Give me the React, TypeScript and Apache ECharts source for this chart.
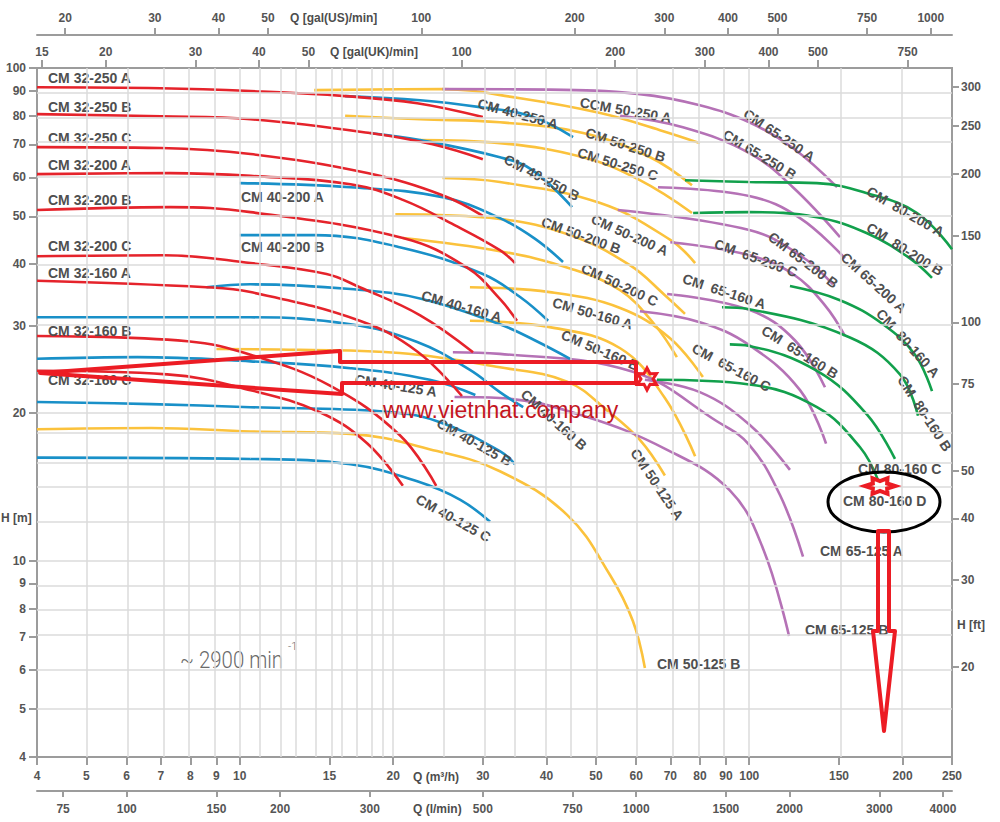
import React, { useEffect, useRef } from "react";
import * as echarts from "echarts";

const L = Math.log10;

// ---------- axis tick values ----------
const qTicks = [4, 5, 6, 7, 8, 9, 10, 15, 20, 30, 40, 50, 60, 70, 80, 90, 100, 150, 200, 250];
const lpmTicks = [75, 100, 150, 200, 300, 500, 750, 1000, 1500, 2000, 3000, 4000];
const ukTicks = [15, 20, 30, 40, 50, 100, 200, 300, 400, 500, 750];
const usTicks = [20, 30, 40, 50, 100, 200, 300, 400, 500, 750, 1000];
const hTicks = [4, 5, 6, 7, 8, 9, 10, 20, 30, 40, 50, 60, 70, 80, 90, 100];
const ftTicks = [20, 30, 40, 50, 75, 100, 150, 200, 250, 300];
const qGrid = [5, 6, 7, 8, 9, 10, 11, 12, 13, 14, 15, 16, 17, 18, 19, 20, 25, 30, 35, 40, 45, 50, 60, 70, 80, 90, 100, 150, 200];
const hGrid = [5, 6, 7, 8, 9, 10, 12, 14, 16, 18, 20, 30, 40, 50, 60, 70, 80, 90];

const Q_MIN = 4, Q_MAX = 250, H_MIN = 4, H_MAX = 100;
const LPM_PER_M3H = 1000 / 60;
const UKGPM_PER_M3H = 3.66615;
const USGPM_PER_M3H = 4.40287;
const FT_PER_M = 3.28084;

// ---------- pump curves: [Q m3/h, H m] ----------
const cm32_250A = [[4, 91.4], [7, 91.0], [10.5, 89.8], [16.1, 87.7], [22.3, 84.8], [30, 79.5]];
const cm32_250B = [[4, 80.6], [7, 79.8], [10.5, 78.7], [18, 73.8], [23.9, 70], [30, 65.3]];
const cm32_250C = [[4, 69.1], [7, 68.8], [10.5, 66.9], [17.8, 61.2], [25, 55.2], [30, 50.1]];
const cm32_200A = [[4, 60.9], [7.3, 61.2], [10.5, 60.4], [16.5, 58.1], [20.9, 54], [26.4, 48], [32.4, 42.7], [34.7, 40.2]];
const cm32_200B = [[4, 51.5], [7.3, 52.2], [10.5, 51.0], [20.9, 45.2], [27.9, 39.4], [32.4, 34.0], [35, 30.7]];
const cm32_200C = [[4, 41.5], [7.1, 41.7], [10.5, 40.2], [14.8, 38.2], [17.2, 35.9], [22.6, 31.5], [28.7, 26.5]];
const cm32_160A = [[4, 37], [8.6, 35.9], [10.5, 35.1], [17.2, 30.7], [22.3, 26.6], [27.3, 21.6]];
const cm32_160B = [[4, 28.6], [7.9, 27.9], [10.5, 26.2], [15, 22.7], [20.6, 18], [24.3, 14.2]];
const cm32_160C = [[4, 24.3], [7.2, 23.9], [10.5, 22.2], [14.4, 20], [17.8, 17.3], [20.9, 14.2]];

const cm40_250A = [[16.1, 87.7], [22.6, 86], [29.6, 83.3], [37.1, 80], [45.1, 72.4]];
const cm40_250B = [[18, 73.8], [22.6, 71.4], [32.4, 65.9], [37.6, 62], [44.9, 52.2]];
const cm40_200A = [[10, 58.4], [16.5, 57.3], [25, 54.7], [32.4, 49.6], [38, 45], [43.1, 40.4]];
const cm40_200B = [[10, 45.8], [14, 45.8], [20.6, 43.3], [30, 38.2], [35.5, 34.3], [40.3, 30.7]];
const cm40_160A = [[8.6, 35.9], [10.5, 36.4], [16.5, 35.6], [22.8, 34], [32.4, 30.2], [38, 28], [44.5, 25.7]];
const cm40_160B = [[4, 31.2], [10.5, 31.2], [16.5, 30.2], [22.3, 27.8], [28.3, 24.4], [32.4, 22], [36, 20.5]];
const cm40_125A = [[4, 25.7], [6.3, 25.9], [10.5, 25.4], [16.5, 24.6], [23.6, 23.3], [29, 21.7]];
const cm40_125B = [[4, 21], [6.7, 20.8], [10.5, 20.5], [19.1, 20.1], [24.4, 19.2], [32.4, 16.7], [34.7, 15.7]];
const cm40_125C = [[4, 16.2], [10.5, 16.1], [16.5, 15.7], [22.3, 14.5], [27.1, 13.3], [31, 12]];

const cm50_250A = [[14, 90.2], [25, 90.6], [35.5, 86.8], [51, 81], [66.8, 74.8], [80, 70.4]];
const cm50_250B = [[16.1, 80], [22.6, 78.7], [32.4, 77.6], [47.2, 73.8], [63.9, 65.9], [77.2, 57.8]];
const cm50_250C = [[22.6, 71.4], [32.4, 70.4], [47.2, 65.9], [61, 59.2], [77.2, 50.8]];
const cm50_200A = [[25, 59.8], [32.4, 58.7], [51, 53.2], [70, 44.8], [78.3, 40.2]];
const cm50_200B = [[20.2, 50.5], [32.4, 49.4], [44.5, 45.8], [58.3, 39.8], [68.3, 34.6], [74.8, 31.7]];
const cm50_200C = [[20.9, 45.2], [32.4, 42.5], [44.5, 39.2], [55.8, 35.4], [65.3, 30.1], [72.1, 25.9]];
const cm50_160A = [[28.3, 35.9], [40.6, 35.1], [55.8, 32.6], [69.9, 28.3], [81.1, 23.6]];
const cm50_160B = [[28.3, 30.7], [40.6, 29.8], [55.8, 27], [68.3, 21.4], [78.3, 16.3]];
const cm50_125A = [[9, 26.9], [13.1, 26.8], [20.6, 26.4], [32.4, 24.7], [43.9, 23.1], [52.6, 20.2], [61, 17.6], [68.3, 14.9]];
const cm50_125B = [[4, 18.5], [6.7, 18.6], [10.5, 18.3], [16.5, 18.1], [24.4, 16.7], [32.4, 15.2], [43.9, 12.4], [53.3, 9.36], [59.1, 7.55], [62.4, 6.06]];

const cm65_250A = [[25, 90.6], [40.6, 90.4], [61, 88.5], [80, 84], [100, 77.6], [121.8, 68.8], [148.7, 57.3]];
const cm65_250B = [[55.8, 80], [74.1, 75.8], [100, 67.2], [121.8, 57.3], [150.7, 45.4]];
const cm65_200A = [[66.2, 57.3], [100, 55], [125.8, 49.6], [154.1, 41.1]];
const cm65_200B = [[55.2, 51.5], [100, 46.9], [125.8, 41.7], [146, 36.4]];
const cm65_200C = [[70, 44.3], [100, 41.7], [121.8, 38.2], [140.8, 33], [154.1, 28.6]];
const cm65_160A = [[69, 34.8], [100, 32.3], [123, 28], [140.8, 22.5]];
const cm65_160B = [[61, 32.1], [80, 30.5], [100, 27.4], [125.8, 22.2], [141.5, 17.3]];
const cm65_160C = [[62.4, 23.3], [80, 22], [100, 18.9], [120.2, 15.3]];
const cm65_125A = [[26.2, 26.5], [32.4, 26.3], [59.1, 24.2], [86.4, 19.2], [100, 17.2], [114.9, 13.6], [127.5, 10.2]];
const cm65_125B = [[26.4, 21.5], [32.4, 21.4], [47.2, 19.7], [69, 16.8], [91.6, 13.9], [106.4, 10.6], [119.7, 7.04]];

const cm80_200A = [[74.8, 59.2], [100, 58.7], [135.8, 58.4], [170.3, 55.7], [213.4, 50.8], [250, 42.9]];
const cm80_200B = [[77.6, 50.8], [100, 51], [135.8, 49.8], [170.3, 46.2], [206.7, 41.1], [228.4, 37.5]];
const cm80_160A = [[120.2, 36.1], [150.7, 33.8], [183, 30.2], [211.5, 26.2], [228.4, 22.1]];
const cm80_160B = [[88.4, 32.7], [100, 32.4], [157.6, 28.4], [197.6, 23.9], [214.4, 19.7]];
const cm80_160C = [[91.6, 27.5], [100, 27.3], [135.8, 24.3], [170.3, 19.8], [193.2, 16.1]];
const cm80_160D = [[65.9, 23.3], [100, 22.8], [135.8, 20.5], [165, 17], [178.9, 14.6]];

const RED = "#e5232b";
const BLUE = "#1990c8";
const YELLOW = "#fbc23c";
const PURPLE = "#b572b6";
const GREEN = "#12a04c";

const curves = [
  { pts: cm50_250A, color: YELLOW }, { pts: cm50_250B, color: YELLOW }, { pts: cm50_250C, color: YELLOW },
  { pts: cm50_200A, color: YELLOW }, { pts: cm50_200B, color: YELLOW }, { pts: cm50_200C, color: YELLOW },
  { pts: cm50_160A, color: YELLOW }, { pts: cm50_160B, color: YELLOW }, { pts: cm50_125A, color: YELLOW },
  { pts: cm50_125B, color: YELLOW },
  { pts: cm65_250A, color: PURPLE }, { pts: cm65_250B, color: PURPLE }, { pts: cm65_200A, color: PURPLE },
  { pts: cm65_200B, color: PURPLE }, { pts: cm65_200C, color: PURPLE }, { pts: cm65_160A, color: PURPLE },
  { pts: cm65_160B, color: PURPLE }, { pts: cm65_160C, color: PURPLE }, { pts: cm65_125A, color: PURPLE },
  { pts: cm65_125B, color: PURPLE },
  { pts: cm80_200A, color: GREEN }, { pts: cm80_200B, color: GREEN }, { pts: cm80_160A, color: GREEN },
  { pts: cm80_160B, color: GREEN }, { pts: cm80_160C, color: GREEN }, { pts: cm80_160D, color: GREEN },
  { pts: cm40_250A, color: BLUE }, { pts: cm40_250B, color: BLUE }, { pts: cm40_200A, color: BLUE },
  { pts: cm40_200B, color: BLUE }, { pts: cm40_160A, color: BLUE }, { pts: cm40_160B, color: BLUE },
  { pts: cm40_125A, color: BLUE }, { pts: cm40_125B, color: BLUE }, { pts: cm40_125C, color: BLUE },
  { pts: cm32_250A, color: RED }, { pts: cm32_250B, color: RED }, { pts: cm32_250C, color: RED },
  { pts: cm32_200A, color: RED }, { pts: cm32_200B, color: RED }, { pts: cm32_200C, color: RED },
  { pts: cm32_160A, color: RED }, { pts: cm32_160B, color: RED }, { pts: cm32_160C, color: RED },
];

// ---------- curve name labels: text, then layout (px x, px y, rotation deg) ----------
const labelTexts = [
  "CM 32-250 A", "CM 32-250 B", "CM 32-250 C", "CM 32-200 A", "CM 32-200 B", "CM 32-200 C",
  "CM 32-160 A", "CM 32-160 B", "CM 32-160 C", "CM 40-200 A", "CM 40-200 B", "CM 40-125 A",
  "CM 40-160 A", "CM 40-250 A", "CM 40-250 B", "CCM 50-250 A", "CM 50-250 B", "CM 50-250 C",
  "CM 50-200 A", "CM 50-200 B", "CM 50-200 C", "CM 50-160 A", "CM 50-160 B", "CM 40-160 B",
  "CM 40-125 B", "CM 40-125 C", "CM 50-125 A", "CM 50-125 B", "CM 65-250 A", "CM 65-250 B",
  "CM 65-200 A", "CM 65-200 B", "CM  65-200 C", "CM  65-160 A", "CM  65-160 B", "CM  65-160 C",
  "CM 65-125 A", "CM 65-125 B", "CM  80-200 A", "CM  80-200 B", "CM  80-160 A", "CM  80-160 B",
  "CM 80-160 C", "CM 80-160 D",
];
const labelLayout = [
  [48, 78, 0], [48, 107, 0], [48, 138, 0], [48, 165, 0], [48, 200, 0], [48, 246, 0],
  [48, 273, 0], [48, 331, 0], [48, 380, 0], [241, 197, 0], [241, 247, 0], [355, 379, -9],
  [422, 295, -16], [478, 103, -15], [505, 158, -28], [580, 102, -10], [586, 132, -18], [578, 152, -17],
  [592, 218, -24], [542, 221, -20], [582, 267, -25], [553, 302, -16], [562, 334, -23], [523, 392, -42],
  [438, 422, -29], [417, 498, -29], [634, 450, -56], [657, 664, 0], [745, 112, -34], [724, 133, -31],
  [843, 255, -42], [770, 235, -37], [715, 243, -20], [683, 278, -18], [763, 329, -32], [693, 347, -28],
  [820, 551, 0], [805, 630, 0], [868, 190, -30], [868, 226, -32], [879, 311, -48], [901, 377, -57],
  [858, 469, 0], [843, 501, 0],
];

const FONT = '"Liberation Sans", Arial, Helvetica, sans-serif';
const AXIS_COLOR = "#9c9c9c";
const ANN = "#ec1c24";

function logAxis(position: string, offset: number, lo: number, hi: number, ticks: number[], tickLen: number, margin: number) {
  const vals = ticks.map(L);
  return {
    type: "value",
    position,
    offset,
    min: L(lo),
    max: L(hi),
    axisLine: { show: true, onZero: false, lineStyle: { color: AXIS_COLOR, width: 2 } },
    axisTick: { show: true, inside: false, length: tickLen, customValues: vals, lineStyle: { color: AXIS_COLOR, width: 2 } },
    axisLabel: {
      show: true,
      customValues: vals,
      margin,
      hideOverlap: false,
      formatter: (v: number) => String(Math.round(Math.pow(10, v))),
      color: "#555",
      fontWeight: "bold",
      fontSize: 12,
      fontFamily: FONT,
    },
    splitLine: { show: false },
    splitArea: { show: false },
    minorTick: { show: false },
  };
}

function starPoints(cx: number, cy: number, rx: number, ry: number, start: number) {
  const pts: number[][] = [];
  for (let i = 0; i < 12; i++) {
    const a = start + (i * Math.PI) / 6;
    const f = i % 2 === 0 ? 1 : 0.55;
    pts.push([cx + rx * f * Math.cos(a), cy + ry * f * Math.sin(a)]);
  }
  return pts;
}

function text(x: number, y: number, t: string, extra: any = {}, z = 5, rotationDeg = 0, scaleX = 1) {
  return {
    type: "text",
    x,
    y,
    z,
    scaleX,
    rotation: (rotationDeg * Math.PI) / 180,
    silent: true,
    style: {
      text: t,
      fill: "#4d4d4d",
      fontSize: 12,
      fontWeight: "bold",
      fontFamily: FONT,
      textAlign: "left",
      align: "left",
      textVerticalAlign: "middle",
      verticalAlign: "middle",
      ...extra,
    },
  };
}

function buildOption() {
  const series: any[] = [
    {
      type: "line",
      data: [],
      z: 1,
      silent: true,
      markLine: {
        silent: true,
        symbol: ["none", "none"],
        label: { show: false },
        animation: false,
        lineStyle: { color: "#dbdbdb", width: 1.5, type: "solid" },
        emphasis: { disabled: true },
        data: [...qGrid.map((q) => ({ xAxis: L(q) })), ...hGrid.map((h) => ({ yAxis: L(h) }))],
      },
    },
    ...curves.map((c) => ({
      type: "line",
      data: c.pts.map(([q, h]) => [L(q), L(h)]),
      smooth: 0.4,
      showSymbol: false,
      symbol: "none",
      silent: true,
      z: 3,
      xAxisIndex: 0,
      yAxisIndex: 0,
      lineStyle: { color: c.color, width: 2.6 },
      itemStyle: { color: c.color },
    })),
  ];

  const labelGraphics = labelTexts.map((t, i) =>
    text(labelLayout[i][0], labelLayout[i][1], t, { fontSize: 14, fill: "#4f4f4f" }, 5, labelLayout[i][2])
  );

  const graphic = [
    { type: "rect", z: 2, silent: true, shape: { x: 140, y: 641, width: 195, height: 31 }, style: { fill: "#ffffff" } },
    text(180, 659, "~ 2900 min", { fill: "#6a6a6a", fontSize: 24, fontWeight: 300, fontFamily: 'Roboto, "Liberation Sans", sans-serif' }, 4, 0, 0.85),
    text(288, 646, "-1", { fill: "#6a6a6a", fontSize: 11, fontWeight: 300, fontFamily: 'Roboto, "Liberation Sans", sans-serif' }, 4),
    text(1, 518, "H [m]"),
    text(957, 625, "H [ft]"),
    text(413, 777, "Q (m³/h)"),
    text(413, 809, "Q (l/min)"),
    text(290, 18, "Q [gal(US)/min]"),
    text(330, 52, "Q [gal(UK)/min]"),
    ...labelGraphics,
    text(383, 410, "www.vietnhat.company", { fill: "#c4161f", fontSize: 23, fontWeight: "normal" }, 12),
    {
      type: "polygon",
      z: 12,
      silent: true,
      shape: { points: [[40, 373], [340, 351], [340, 362], [636, 362], [636, 383], [342, 383], [342, 394]] },
      style: { fill: "none", stroke: ANN, lineWidth: 4, lineJoin: "round" },
    },
    {
      type: "polygon",
      z: 12,
      silent: true,
      shape: { points: starPoints(647, 379, 11, 11, -Math.PI / 2) },
      style: { fill: "none", stroke: ANN, lineWidth: 3 },
    },
    {
      type: "ellipse",
      z: 12,
      silent: true,
      shape: { cx: 884, cy: 502, rx: 56, ry: 30 },
      style: { fill: "none", stroke: "#000", lineWidth: 3 },
    },
    {
      type: "polygon",
      z: 13,
      silent: true,
      shape: { points: starPoints(880, 486, 15, 9, 0) },
      style: { fill: "none", stroke: ANN, lineWidth: 4 },
    },
    {
      type: "polygon",
      z: 12,
      silent: true,
      shape: { points: [[878, 531], [889, 531], [889, 631], [895, 631], [884, 731], [873, 631], [878, 631]] },
      style: { fill: "none", stroke: ANN, lineWidth: 4, lineJoin: "round" },
    },
  ];

  return {
    animation: false,
    backgroundColor: "#ffffff",
    grid: {
      left: 37,
      right: 48,
      top: 68,
      bottom: 65,
      containLabel: false,
      outerBoundsMode: "none",
      show: true,
      borderColor: AXIS_COLOR,
      borderWidth: 2,
      backgroundColor: "transparent",
    },
    xAxis: [
      logAxis("bottom", 0, Q_MIN, Q_MAX, qTicks, 8, 13),
      logAxis("bottom", 34, Q_MIN * LPM_PER_M3H, Q_MAX * LPM_PER_M3H, lpmTicks, 6, 12),
      logAxis("top", 0, Q_MIN * UKGPM_PER_M3H, Q_MAX * UKGPM_PER_M3H, ukTicks, 8, 10),
      logAxis("top", 33, Q_MIN * USGPM_PER_M3H, Q_MAX * USGPM_PER_M3H, usTicks, 7, 11),
    ],
    yAxis: [
      logAxis("left", 0, H_MIN, H_MAX, hTicks, 8, 11),
      logAxis("right", 0, H_MIN * FT_PER_M, H_MAX * FT_PER_M, ftTicks, 7, 9),
    ],
    series,
    graphic,
  };
}

export default function App() {
  const ref = useRef<HTMLDivElement>(null);
  useEffect(() => {
    const chart = echarts.init(ref.current as HTMLDivElement, null, { renderer: "svg" });
    chart.setOption(buildOption() as any);
    return () => chart.dispose();
  }, []);
  return <div ref={ref} style={{ position: "absolute", left: 0, top: 0, width: 1000, height: 822 }} />;
}
